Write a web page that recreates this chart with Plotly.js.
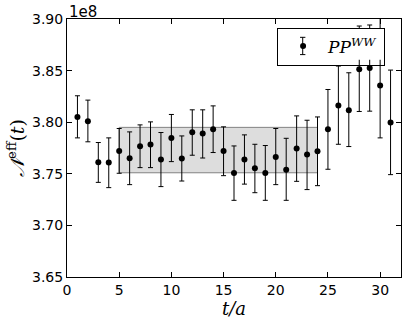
<!DOCTYPE html>
<html>
<head>
<meta charset="utf-8">
<script src="https://cdn.plot.ly/plotly-3.0.1.min.js"></script>
<style>
  html, body { margin: 0; padding: 0; background: #fff; }
  #chart { width: 407px; height: 323px; }
</style>
</head>
<body>
<div id="chart"></div>
<script>
// Effective normalisation vs t/a, values in units of 1e8
const tSlices = Array.from({length: 31}, (_, i) => i + 1);
const nEff = [3.805, 3.801, 3.7612, 3.761, 3.7722, 3.765, 3.7767, 3.7783, 3.7638, 3.7848,
              3.7648, 3.7903, 3.789, 3.7932, 3.7722, 3.7508, 3.7638, 3.7553, 3.7508, 3.7663,
              3.754, 3.7745, 3.7686, 3.7718, 3.7932, 3.8162, 3.8117, 3.8514, 3.8524, 3.8356, 3.7997];
const nUpper = [3.8256, 3.8214, 3.7803, 3.7848, 3.7939, 3.7906, 3.7974, 3.8003, 3.790, 3.8075,
                3.7867, 3.812, 3.812, 3.8158, 3.7955, 3.777, 3.7877, 3.7786, 3.7774, 3.7939,
                3.7844, 3.8061, 3.8019, 3.8051, 3.8317, 3.8544, 3.8479, 3.8932, 3.8942, 3.905, 3.8505];
const nLower = [3.7848, 3.781, 3.7417, 3.7366, 3.7505, 3.7395, 3.756, 3.756, 3.7376, 3.7618,
                3.743, 3.768, 3.7653, 3.7706, 3.7482, 3.7243, 3.740, 3.7317, 3.7243, 3.7395,
                3.7243, 3.7427, 3.7347, 3.7385, 3.7544, 3.7786, 3.7764, 3.8104, 3.8107, 3.7848, 3.7492];

// Plateau fit band
const fitRange = [5, 24];
const fitBand = [3.751, 3.795];

const yTicks = [3.65, 3.70, 3.75, 3.80, 3.85, 3.90];
const yTickText = ['3.65', '3.70', '3.75', '3.80', '3.85', '3.90'];
const xTicks = [0, 5, 10, 15, 20, 25, 30];

const trace = {
    x: tSlices,
    y: nEff,
    type: 'scatter',
    mode: 'markers',
    name: '<i>PP</i><sup><i>WW</i></sup>',
    marker: {color: 'black', size: 6},
    error_y: {
        type: 'data',
        symmetric: false,
        array: nUpper.map((u, i) => u - nEff[i]),
        arrayminus: nEff.map((v, i) => v - nLower[i]),
        color: 'black',
        thickness: 1,
        width: 2.5
    }
};

// white patch behind the (transparent) legend, then a small error bar on its marker
const legendPatch = {type: 'rect', xref: 'paper', yref: 'paper', layer: 'above',
    x0: 0.631, x1: 0.968, y0: 0.842, y1: 0.965,
    fillcolor: 'white', line: {width: 0}};
const legX = 0.7057, legTop = 0.929, legBot = 0.862, capW = 0.008;
const legendBar = [
    {x0: legX, x1: legX, y0: legBot, y1: legTop},
    {x0: legX - capW, x1: legX + capW, y0: legTop, y1: legTop},
    {x0: legX - capW, x1: legX + capW, y0: legBot, y1: legBot}
].map(s => Object.assign({type: 'line', xref: 'paper', yref: 'paper', layer: 'above',
                          line: {color: 'black', width: 1}}, s));

const layout = {
    width: 407,
    height: 323,
    margin: {l: 67, r: 6, t: 19, b: 46},
    paper_bgcolor: 'white',
    plot_bgcolor: 'white',
    font: {family: 'DejaVu Sans', size: 14, color: 'black'},
    showlegend: true,
    legend: {
        x: 0.629, y: 0.967, xanchor: 'left', yanchor: 'top',
        bordercolor: 'black', borderwidth: 1, bgcolor: 'rgba(0,0,0,0)',
        font: {family: 'DejaVu Serif', size: 17},
        itemwidth: 40
    },
    xaxis: {
        range: [0, 32],
        tickvals: xTicks,
        ticks: 'inside', ticklen: 5, tickcolor: 'black',
        showgrid: false, zeroline: false,
        showline: true, linecolor: 'black', linewidth: 1, mirror: 'allticks',
        title: {text: '<i>t/a</i>', font: {family: 'DejaVu Serif', size: 18}, standoff: 4}
    },
    yaxis: {
        range: [3.65, 3.90],
        tickvals: yTicks,
        ticktext: yTickText,
        ticks: 'inside', ticklen: 5, tickcolor: 'black',
        showgrid: false, zeroline: false,
        showline: true, linecolor: 'black', linewidth: 1, mirror: 'allticks',
        title: {text: '<i>𝒩</i><sup>eff</sup>(<i>t</i>)', font: {family: 'DejaVu Serif', size: 19}, standoff: 2}
    },
    shapes: [{
        type: 'rect', layer: 'below',
        xref: 'x', yref: 'y',
        x0: fitRange[0], x1: fitRange[1], y0: fitBand[0], y1: fitBand[1],
        fillcolor: 'rgb(221,221,221)',
        line: {color: 'rgb(130,130,130)', width: 1}
    }, legendPatch].concat(legendBar),
    annotations: [{
        text: '1e8', xref: 'paper', yref: 'paper', x: 0, y: 1,
        xanchor: 'left', yanchor: 'bottom', showarrow: false,
        font: {family: 'DejaVu Sans', size: 15}, yshift: -4
    }]
};

Plotly.newPlot('chart', [trace], layout, {displayModeBar: false, staticPlot: true});
</script>
</body>
</html>
